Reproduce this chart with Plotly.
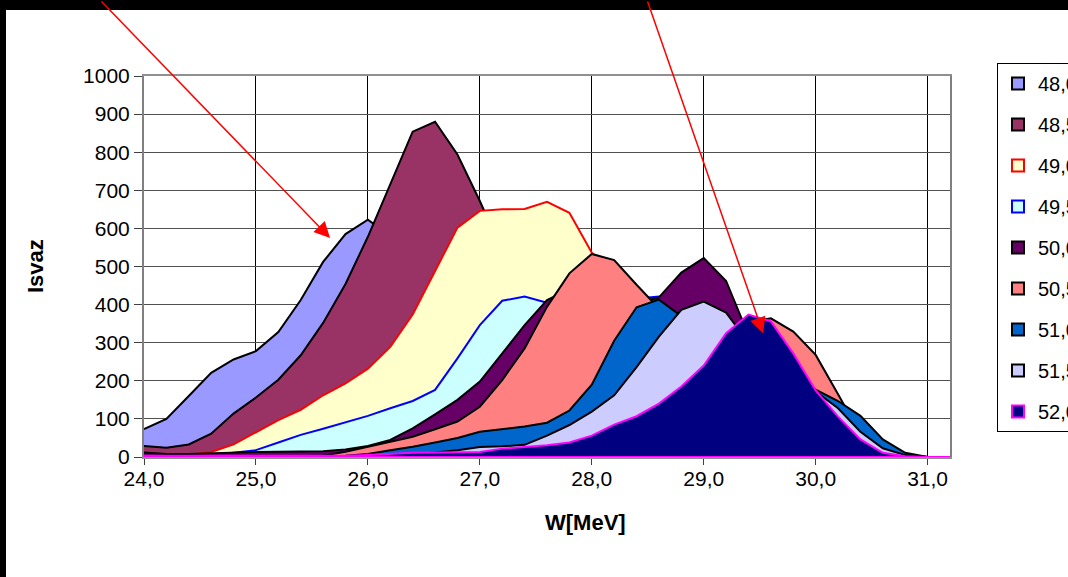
import plotly.graph_objects as go

# ---- data -------------------------------------------------------------
W = [24.0, 24.2, 24.4, 24.6, 24.8, 25.0, 25.2, 25.4, 25.6, 25.8,
     26.0, 26.2, 26.4, 26.6, 26.8, 27.0, 27.2, 27.4, 27.6, 27.8,
     28.0, 28.2, 28.4, 28.6, 28.8, 29.0, 29.2, 29.4, 29.6, 29.8,
     30.0, 30.2, 30.4, 30.6, 30.8, 31.0, 31.2]

series_names = ["48,0", "48,5", "49,0", "49,5", "50,0", "50,5", "51,0", "51,5", "52,0"]

s480 = [73, 100, 160, 221, 256, 278, 328, 412, 512, 585,
        623, 580, 520, 450, 380, 300, 230, 170, 120, 80,
        50, 30, 15, 8, 3, 0, 0, 0, 0, 0,
        0, 0, 0, 0, 0, 0, 0]
s485 = [29, 24, 33, 61, 114, 156, 203, 267, 352, 454,
        578, 718, 854, 880, 794, 672, 540, 430, 330, 240,
        170, 110, 65, 35, 18, 8, 3, 0, 0, 0,
        0, 0, 0, 0, 0, 0, 0]
s490 = [3, 2, 5, 13, 33, 64, 97, 124, 162, 193,
        232, 289, 374, 488, 602, 646, 650, 651, 670, 641,
        536, 470, 400, 340, 280, 230, 180, 130, 90, 55,
        30, 12, 4, 0, 0, 0, 0]
s495 = [2, 2, 2, 3, 11, 18, 38, 58, 74, 90,
        108, 128, 147, 176, 259, 346, 410, 421, 405, 400,
        405, 410, 415, 421, 360, 300, 240, 180, 120, 75,
        40, 18, 6, 0, 0, 0, 0]
s500 = [12, 8, 8, 10, 12, 13, 14, 14, 15, 20,
        29, 45, 75, 112, 150, 198, 272, 346, 412, 440,
        430, 415, 405, 419, 484, 522, 462, 320, 250, 170,
        110, 60, 25, 8, 2, 0, 0]
s505 = [3, 2, 2, 2, 2, 2, 2, 2, 4, 14,
        27, 40, 53, 73, 93, 132, 202, 285, 394, 482,
        533, 517, 452, 390, 350, 335, 335, 355, 364, 329,
        268, 165, 60, 20, 5, 0, 0]
s510 = [2, 1, 1, 1, 1, 1, 1, 1, 1, 3,
        8, 18, 27, 38, 50, 66, 73, 80, 90, 122,
        190, 305, 393, 413, 370, 340, 320, 300, 265, 225,
        177, 147, 108, 46, 11, 0, 0]
s515 = [1, 1, 1, 1, 1, 1, 1, 1, 1, 1,
        2, 4, 8, 12, 18, 26, 28, 32, 56, 84,
        119, 162, 236, 316, 386, 408, 379, 300, 280, 225,
        172, 128, 66, 23, 5, 0, 0]
s520 = [3, 3, 3, 3, 3, 3, 3, 3, 3, 3,
        5, 8, 11, 12, 12, 13, 22, 27, 31, 38,
        56, 85, 107, 140, 185, 240, 325, 374, 356, 272,
        175, 106, 46, 11, 2, 0, 0]

x_tick_vals = [24, 25, 26, 27, 28, 29, 30, 31]
x_tick_text = ["24,0", "25,0", "26,0", "27,0", "28,0", "29,0", "30,0", "31,0"]

# ---- styles -----------------------------------------------------------
fills = ["#9999FF", "#993366", "#FFFFCC", "#CCFFFF", "#660066",
         "#FF8080", "#0066CC", "#CCCCFF", "#000080"]
edges = ["#000000", "#000000", "#FF0000", "#0000FF", "#000000",
         "#000000", "#000000", "#000000", "#FF00FF"]
all_series = [s480, s485, s490, s495, s500, s505, s510, s515, s520]

FONT = "Liberation Sans, Arial, sans-serif"

fig = go.Figure()

for name, vals, fc, ec in zip(series_names, all_series, fills, edges):
    fig.add_trace(go.Scatter(
        x=W + W[::-1],
        y=vals + [0] * len(vals),
        mode="lines",
        fill="toself",
        fillcolor=fc,
        line=dict(color=ec, width=2),
        showlegend=False,
        hoverinfo="skip",
    ))

for i, (name, fc, ec) in enumerate(zip(series_names, fills, edges)):
    fig.add_trace(go.Scatter(
        x=[None], y=[None],
        mode="markers",
        name=name,
        legendgroup=f"g{i}",
        marker=dict(symbol="square", size=12, color=fc, line=dict(color=ec, width=2)),
    ))

# pixel helpers for paper coordinates
L, R, T, B = 144, 950, 76, 457
def px(xp):
    return (xp - L) / (R - L)
def py(yp):
    return (B - yp) / (B - T)

fig.update_layout(
    width=1068, height=577,
    margin=dict(l=L, r=1068 - R, t=T, b=577 - B, autoexpand=False),
    paper_bgcolor="white",
    plot_bgcolor="white",
    font=dict(family=FONT, size=20, color="black"),
    showlegend=True,
    legend=dict(
        x=px(997), y=py(63), xanchor="left", yanchor="top",
        bordercolor="black", borderwidth=1, bgcolor="white",
        font=dict(family=FONT, size=20, color="black"),
        traceorder="grouped", tracegroupgap=12,
        maxheight=500,
    ),
    xaxis=dict(
        range=[24, 31.2],
        tickvals=x_tick_vals, ticktext=x_tick_text,
        showgrid=True, gridcolor="#000000", gridwidth=1,
        zeroline=False,
        showline=True, linecolor="#909090", linewidth=2, mirror=True,
        ticks="outside", ticklen=6, tickcolor="#404040", tickwidth=1,
        ticklabelstandoff=-4,
        layer="below traces",
        tickfont=dict(family=FONT, size=21),
    ),
    yaxis=dict(
        range=[0, 1000], dtick=100,
        showgrid=True, gridcolor="#505050", gridwidth=1,
        zeroline=False,
        showline=True, linecolor="#808080", linewidth=2, mirror=True,
        ticks="outside", ticklen=8, tickcolor="#404040", tickwidth=1,
        tickfont=dict(family=FONT, size=21),
    ),
    shapes=[
        dict(type="rect", xref="paper", yref="paper",
             x0=px(-20), x1=px(1100), y0=py(10), y1=py(-20),
             fillcolor="black", line=dict(width=0), layer="above"),
        dict(type="rect", xref="paper", yref="paper",
             x0=px(-20), x1=px(6), y0=py(600), y1=py(-20),
             fillcolor="black", line=dict(width=0), layer="above"),
    ],
    annotations=[
        dict(text="<b>Isvaz</b>", xref="paper", yref="paper",
             x=px(35), y=py(266), textangle=-90, showarrow=False,
             xanchor="center", yanchor="middle",
             font=dict(family=FONT, size=22)),
        dict(text="<b>W[MeV]</b>", xref="paper", yref="paper",
             x=px(585), y=py(522), showarrow=False,
             xanchor="center", yanchor="middle",
             font=dict(family=FONT, size=22)),
        dict(text="", x=25.662, y=575, xref="x", yref="y",
             showarrow=True, arrowhead=2, arrowsize=2.1, arrowwidth=1.5,
             arrowcolor="#FF0000", ax=-230, ay=-248, axref="pixel", ayref="pixel",
             standoff=0),
        dict(text="", x=29.53, y=325, xref="x", yref="y",
             showarrow=True, arrowhead=2, arrowsize=2.1, arrowwidth=1.5,
             arrowcolor="#FF0000", ax=-116, ay=-343, axref="pixel", ayref="pixel",
             standoff=0),
    ],
)

fig.write_html("out.html")
